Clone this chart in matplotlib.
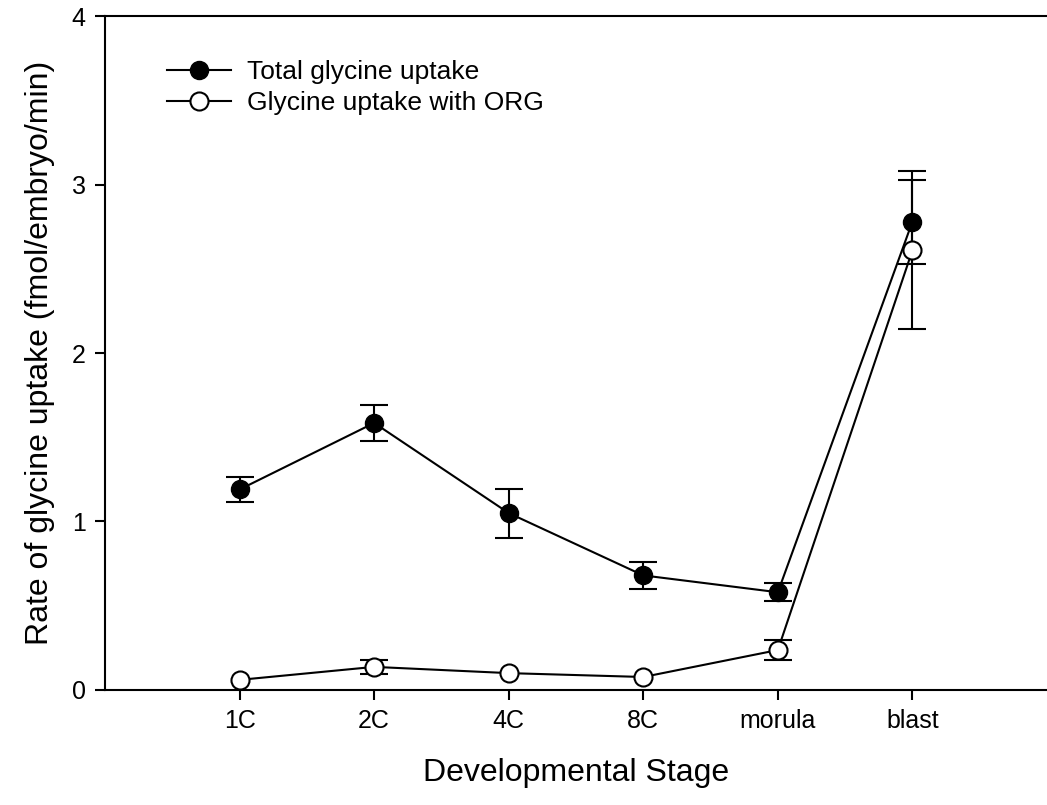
import numpy as np
import matplotlib.pyplot as plt

plt.rcParams['font.family'] = ['Liberation Sans', 'DejaVu Sans']

stages = ['1C', '2C', '4C', '8C', 'morula', 'blast']
pos = [1, 2, 3, 4, 5, 6]

total = [1.19, 1.585, 1.05, 0.68, 0.58, 2.78]
total_err = [0.074, 0.107, 0.145, 0.08, 0.053, 0.25]

org = [0.06, 0.137, 0.10, 0.077, 0.237, 2.61]
org_err = [0.0, 0.04, 0.0, 0.0, 0.06, 0.47]

fig = plt.figure(figsize=(10.47, 8.05), dpi=100)
ax = fig.add_axes([0.1003, 0.1429, 0.8997, 0.8371])

ebar = dict(fmt='none', ecolor='black', elinewidth=1.5, capsize=10,
            capthick=1.5, zorder=2)
ax.errorbar(pos, total, yerr=total_err, **ebar)
# skip bars too small to show outside the marker
keep = np.array(org_err) > 0
ax.errorbar(np.array(pos)[keep], np.array(org)[keep],
            yerr=np.array(org_err)[keep], **ebar)

ax.plot(pos, total, '-o', color='black', lw=1.5, ms=13,
        mfc='black', mec='black', label='Total glycine uptake', zorder=3)
ax.plot(pos, org, '-o', color='black', lw=1.5, ms=13,
        mfc='white', mec='black', mew=1.5, label='Glycine uptake with ORG', zorder=3)

ax.set_xlim(0, 7)
ax.set_ylim(0, 4)
ax.set_xticks(pos)
ax.set_xticklabels(stages)
ax.set_yticks([0, 1, 2, 3, 4])

ax.tick_params(direction='out', length=7, width=1.5, labelsize=18, pad=7)
for side in ['left', 'bottom', 'top']:
    ax.spines[side].set_linewidth(1.5)
ax.spines['right'].set_visible(False)

ax.set_xlabel('Developmental Stage', fontsize=23, labelpad=18)
ax.set_ylabel('Rate of glycine uptake (fmol/embryo/min)', fontsize=23, labelpad=12)

ax.legend(loc='upper left', bbox_to_anchor=(0.055, 0.95), frameon=False,
          fontsize=19, handlelength=2.4, handletextpad=0.6, labelspacing=0.25,
          borderaxespad=0)

fig.savefig('out.png', dpi=100)
